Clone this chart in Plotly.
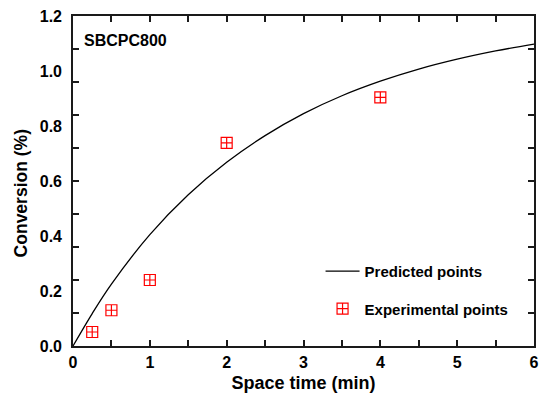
import plotly.graph_objects as go

# Model prediction (curve) and measured conversions
pred_time = [0, 0.25, 0.5, 1.0, 1.5, 2.0, 2.5, 3.0, 3.5, 4.0, 4.5, 5.0, 5.5, 6.0]
pred_conv = [0, 0.118, 0.225, 0.405, 0.55, 0.668, 0.765, 0.845, 0.91, 0.963, 1.007, 1.043, 1.073, 1.098]

exp_time = [0.25, 0.5, 1.0, 2.0, 4.0]
exp_conv = [0.051, 0.13, 0.24, 0.739, 0.904]

x_ticks = [0, 0.5, 1, 1.5, 2, 2.5, 3, 3.5, 4, 4.5, 5, 5.5, 6]
x_labels = ["0", "", "1", "", "2", "", "3", "", "4", "", "5", "", "6"]
y_tick_marks = [0, 0.12, 0.24, 0.36, 0.48, 0.6, 0.72, 0.84, 0.96, 1.08, 1.2]
y_labels = ["0.0", "0.2", "0.4", "0.6", "0.8", "1.0", "1.2"]
y_label_vals = [0, 0.2, 0.4, 0.6, 0.8, 1.0, 1.2]

FONT = "Arial, 'Liberation Sans', sans-serif"
AXIS_COLOR = "#1a1a1a"

fig = go.Figure()

fig.add_trace(go.Scatter(
    x=pred_time, y=pred_conv, mode="lines", name="Predicted points",
    line=dict(color="black", width=1.3, shape="spline", smoothing=1.0),
    legendgroup="a",
))
fig.add_trace(go.Scatter(
    x=exp_time, y=exp_conv, mode="markers", name="Experimental points",
    marker=dict(symbol="square-cross-open", size=11, color="red",
                line=dict(color="red", width=1.2)),
    legendgroup="b",
))

fig.update_layout(
    width=547, height=404,
    margin=dict(l=73, r=8, t=16, b=58),
    paper_bgcolor="white", plot_bgcolor="white",
    font=dict(family=FONT, color="black"),
    showlegend=True,
    legend=dict(
        x=0.537, y=0.17, xanchor="left", yanchor="middle",
        bgcolor="rgba(0,0,0,0)", borderwidth=0,
        font=dict(family=FONT, size=15, color="black", weight="bold"),
        tracegroupgap=15, itemwidth=34,
    ),
    xaxis=dict(
        range=[0, 6], tickvals=x_ticks, ticktext=x_labels,
        ticks="inside", ticklen=6, tickwidth=1.5, tickcolor=AXIS_COLOR,
        showline=True, linewidth=2, linecolor=AXIS_COLOR, mirror="ticks",
        showgrid=False, zeroline=False,
        tickfont=dict(family=FONT, size=16, weight="bold"),
        ticklabelstandoff=1,
        title=dict(text="Space time (min)", standoff=6,
                   font=dict(family=FONT, size=18, weight="bold")),
    ),
    yaxis=dict(
        range=[0, 1.2], tickvals=y_tick_marks, showticklabels=False,
        ticks="inside", ticklen=6, tickwidth=1.5, tickcolor=AXIS_COLOR,
        showline=True, linewidth=2, linecolor=AXIS_COLOR, mirror="ticks",
        showgrid=False, zeroline=False,
    ),
    yaxis2=dict(
        range=[0, 1.2], overlaying="y", side="left",
        tickvals=y_label_vals, ticktext=y_labels, ticks="",
        showline=False, showgrid=False, zeroline=False,
        tickfont=dict(family=FONT, size=16, weight="bold"),
        ticklabelstandoff=10,
    ),
    annotations=[
        dict(text="SBCPC800", x=0.019, y=0.925, xref="paper", yref="paper",
             xanchor="left", yanchor="middle", showarrow=False,
             font=dict(family=FONT, size=16, weight="bold")),
        dict(text="Conversion (%)", x=-0.112, y=0.4636, xref="paper", yref="paper",
             xanchor="center", yanchor="middle", showarrow=False, textangle=-90,
             font=dict(family=FONT, size=17.5, weight="bold")),
    ],
)

# invisible trace that activates the label-only axis
fig.add_trace(go.Scatter(x=[0], y=[0], yaxis="y2", mode="markers",
                         marker=dict(opacity=0), showlegend=False, hoverinfo="skip"))

fig.write_html("out.html")
